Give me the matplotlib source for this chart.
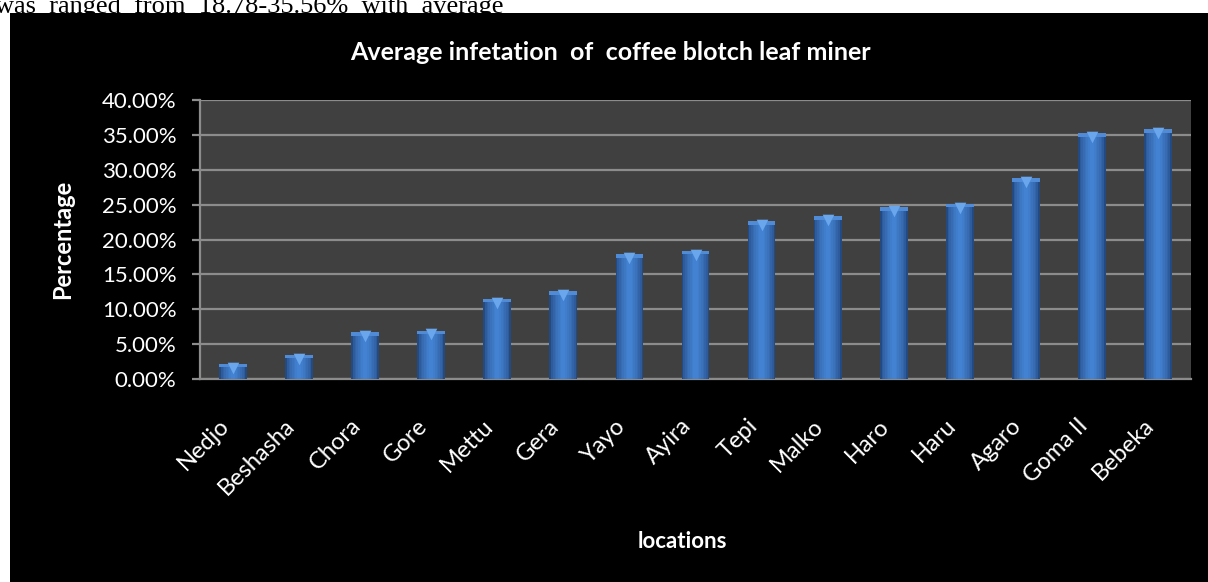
# 咖啡潜叶蛾平均侵染率 柱状图
import numpy as np
import matplotlib.pyplot as plt
from matplotlib.patches import Rectangle
from matplotlib.ticker import FuncFormatter, MultipleLocator

locations = ['Nedjo', 'Beshasha', 'Chora', 'Gore', 'Mettu', 'Gera', 'Yayo', 'Ayira',
             'Tepi', 'Malko', 'Haro', 'Haru', 'Agaro', 'Goma II', 'Bebeka']
infestation = [2.15, 3.45, 6.7, 6.95, 11.5, 12.6, 17.9, 18.35,
               22.6, 23.3, 24.6, 25.1, 28.8, 35.2, 35.8]

title = 'Average infetation  of  coffee blotch leaf miner'
top_text = 'was  ranged  from  18.78-35.56%  with  average'

plt.rcParams['font.family'] = ['Lato', 'DejaVu Sans']

fig = plt.figure(figsize=(12.08, 5.82), dpi=100, facecolor='white')
# 上方被截断的正文
fig.text(-0.004, 1 - 13.5 / 582, top_text, family='Liberation Serif', fontsize=19,
         color='black', va='baseline', ha='left', zorder=0)
fig.patches.append(Rectangle((10 / 1208, 0), 1, 1 - 13 / 582, transform=fig.transFigure,
                             facecolor='black', edgecolor='none', zorder=1))

ax = fig.add_axes([200 / 1208, 1 - 379 / 582, 991 / 1208, 279 / 582])
ax.set_zorder(2)
ax.set_facecolor('#404040')

x = np.arange(len(locations))
vals = np.array(infestation)
w = 0.42
# 渐变效果：多层叠加
dark = np.array([0x24, 0x4a, 0x82]) / 255
light = np.array([0x43, 0x82, 0xd2]) / 255
n = 8
for i in range(n):
    t = i / (n - 1)
    ax.bar(x, vals, width=w * (1 - 0.85 * t), color=dark + (light - dark) * t ** 0.6,
           zorder=3)
# 顶部斜面
ax.bar(x, np.full(len(vals), 0.5), bottom=vals - 0.5, width=w, color='#4f8bd6', zorder=4)
ax.scatter(x, vals - 0.55, marker='v', s=70, color='#6aa6ec', linewidths=0, zorder=5)

ax.set_xlim(-0.5, len(locations) - 0.5)
ax.set_ylim(0, 40)
ax.yaxis.set_major_locator(MultipleLocator(5))
ax.yaxis.set_major_formatter(FuncFormatter(lambda v, p: f'{v:.2f}%'))
ax.grid(axis='y', color='#8c8c8c', linewidth=1.6, zorder=1)
ax.set_axisbelow(True)

for s in ['top', 'right']:
    ax.spines[s].set_visible(False)
for s in ['left', 'bottom']:
    ax.spines[s].set_color('#8c8c8c')
    ax.spines[s].set_linewidth(1.6)

ax.tick_params(axis='y', colors='#8c8c8c', labelcolor='white', labelsize=16,
               length=6, width=1.6, pad=11)
ax.tick_params(axis='x', length=0, labelcolor='white', labelsize=17, pad=26)
ax.set_xticks(x)
ax.set_xticklabels(locations, rotation=45, ha='right', va='top')

ax.set_ylabel('Percentage', color='white', fontsize=17, fontweight='bold', labelpad=20)
fig.text(682 / 1208, 1 - 541 / 582, 'locations', color='white', fontsize=16,
         fontweight='bold', ha='center', va='center', zorder=3)
fig.text(610 / 1208, 1 - 52 / 582, title, color='white', fontsize=18,
         fontweight='bold', ha='center', va='center', zorder=3)

fig.savefig('out.png', dpi=100, facecolor=fig.get_facecolor())
